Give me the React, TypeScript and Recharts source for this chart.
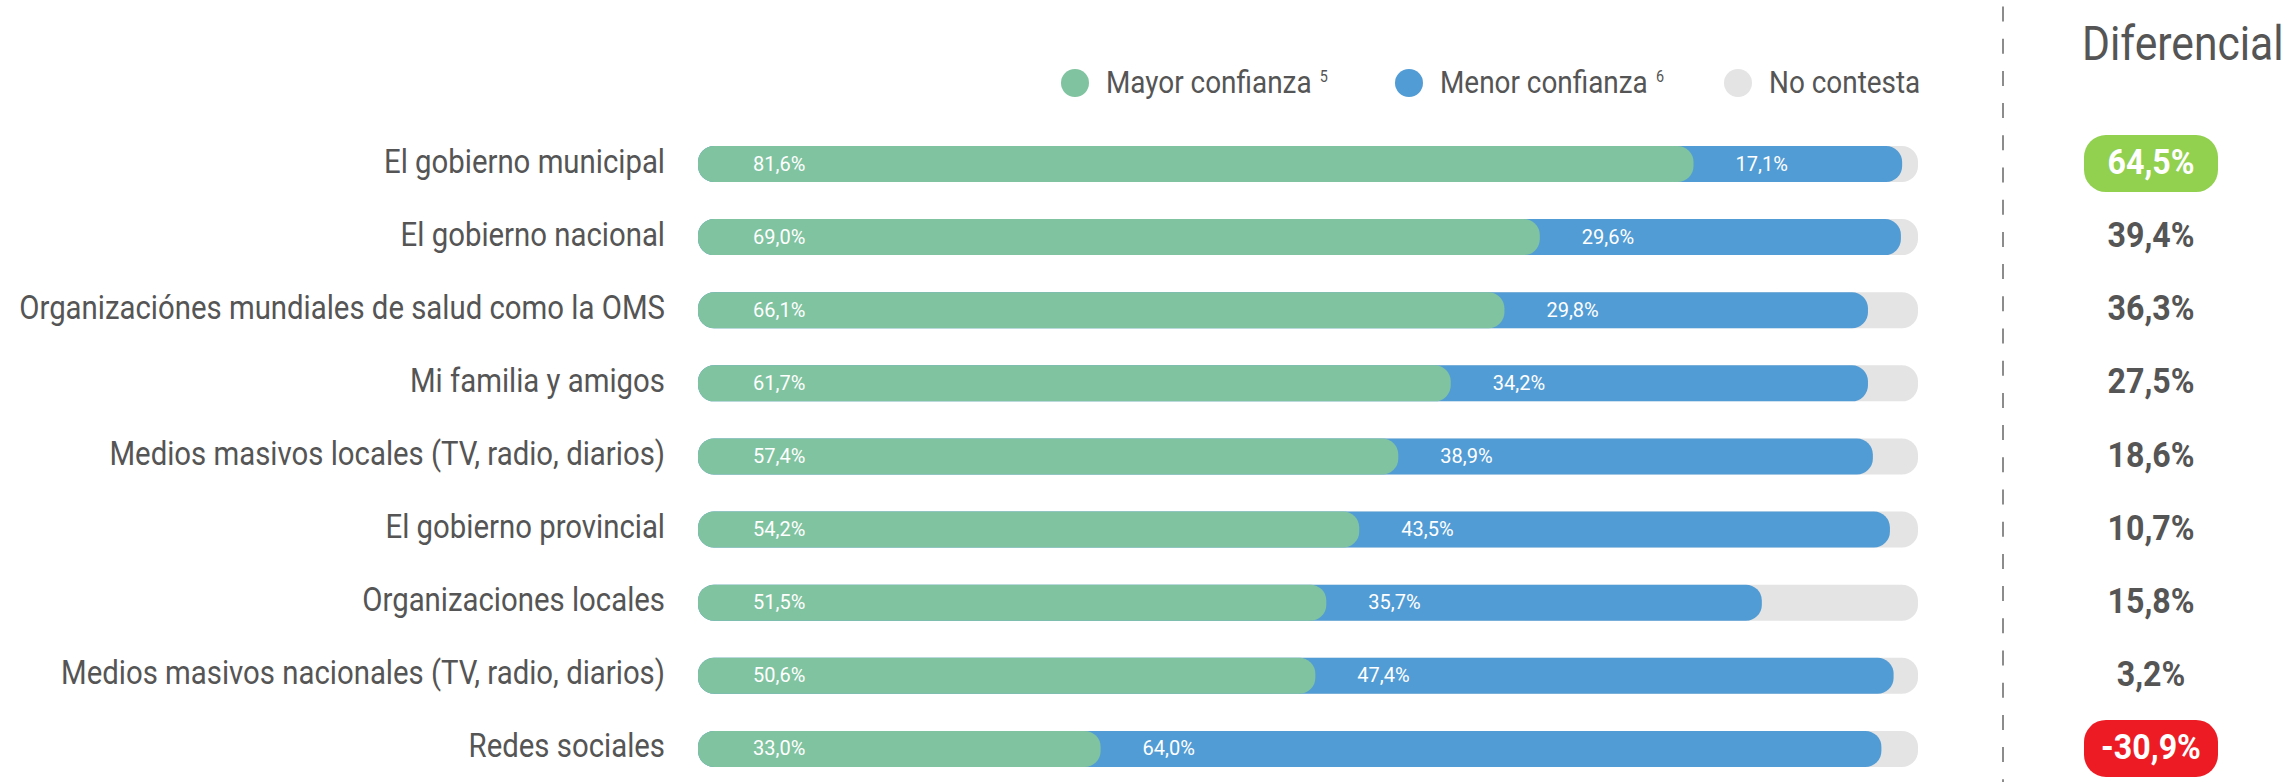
import React from 'react';
import { BarChart, Bar, XAxis, YAxis, Legend, LabelList } from 'recharts';

const categories = [
  'El gobierno municipal',
  'El gobierno nacional',
  'Organizaciónes mundiales de salud como la OMS',
  'Mi familia y amigos',
  'Medios masivos locales (TV, radio, diarios)',
  'El gobierno provincial',
  'Organizaciones locales',
  'Medios masivos nacionales (TV, radio, diarios)',
  'Redes sociales',
];
const mayorConfianza = [81.6, 69.0, 66.1, 61.7, 57.4, 54.2, 51.5, 50.6, 33.0];
const menorConfianza = [17.1, 29.6, 29.8, 34.2, 38.9, 43.5, 35.7, 47.4, 64.0];
const diferencial = [64.5, 39.4, 36.3, 27.5, 18.6, 10.7, 15.8, 3.2, -30.9];

const legendItems = [
  { key: 'mayor', label: 'Mayor confianza', sup: '5' },
  { key: 'acumulado', label: 'Menor confianza', sup: '6' },
  { key: 'total', label: 'No contesta', sup: '' },
];

const GREEN = '#80c3a0';
const BLUE = '#529cd5';
const GREY = '#e4e4e4';
const TEXT = '#555555';
const BAR_SIZE = 36;

const data = categories.map((name, i) => ({
  name,
  mayor: mayorConfianza[i],
  acumulado: mayorConfianza[i] + menorConfianza[i],
  total: 100,
}));

const fmt = (v: number) => v.toFixed(1).replace('.', ',') + '%';

if (typeof document !== 'undefined') {
  document.body.style.margin = '0';
  document.body.style.overflow = 'hidden';
}

const CategoryTick = (props: any) => {
  const { x, y, payload } = props;
  const i = categories.indexOf(payload.value);
  const d = diferencial[i];
  const badge = d >= 50 ? '#92d050' : d < 0 ? '#ed1c24' : null;
  return (
    <g>
      <g transform={`translate(${x - 33} ${y + 9}) scale(0.89 1)`}>
        <text x={0} y={0} textAnchor="end" fontSize={33} fill={TEXT} fontFamily="Roboto">
          {payload.value}
        </text>
      </g>
      {badge && <rect x={2084} y={y - 28.5} width={134} height={57} rx={22} fill={badge} />}
      <g transform={`translate(2151 ${y + 10.5}) scale(0.92 1)`}>
        <text x={0} y={0} textAnchor="middle" fontSize={35} fontWeight={700}
          fill={badge ? '#ffffff' : TEXT} fontFamily="Roboto">
          {fmt(d)}
        </text>
      </g>
    </g>
  );
};

const MayorLabel = (props: any) => {
  const { x, y, height, value } = props;
  return (
    <text x={x + 55} y={y + height / 2 + 6.5} fontSize={20} fill="#ffffff" fontFamily="Roboto">
      {fmt(value)}
    </text>
  );
};

const MenorLabel = (props: any) => {
  const { x, y, width, height, index } = props;
  const greenEnd = x + (width * mayorConfianza[index]) / (mayorConfianza[index] + menorConfianza[index]);
  return (
    <text x={greenEnd + 42} y={y + height / 2 + 6.5} fontSize={20} fill="#ffffff" fontFamily="Roboto">
      {fmt(menorConfianza[index])}
    </text>
  );
};

const legendX = [1075, 1409, 1738];

const LegendContent = (props: any) => {
  const payload = props.payload || [];
  return (
    <svg width={2287} height={120}>
      {legendItems.map((item, k) => {
        const entry = payload.find((p: any) => p.dataKey === item.key);
        const color = entry ? entry.color : GREY;
        return (
          <g key={item.key}>
            <circle cx={legendX[k]} cy={83} r={14} fill={color} />
            <g transform={`translate(${legendX[k] + 31} 92.7) scale(0.9 1)`}>
              <text x={0} y={0} fontSize={31} fill={TEXT} fontFamily="Roboto">
                {item.label}
                {item.sup && (
                  <tspan dx={9} dy={-11} fontSize={16}>
                    {item.sup}
                  </tspan>
                )}
              </text>
            </g>
          </g>
        );
      })}
    </svg>
  );
};

export default function App() {
  return (
    <div style={{ position: 'relative', width: 2287, height: 782, overflow: 'hidden', background: '#fff' }}>
      <BarChart
        width={2287}
        height={785}
        data={data}
        layout="vertical"
        margin={{ top: 127, right: 369, left: 0, bottom: 0 }}
        barGap={-BAR_SIZE}
        barSize={BAR_SIZE}
      >
        <XAxis type="number" domain={[0, 100]} hide />
        <YAxis
          type="category"
          dataKey="name"
          width={698}
          axisLine={false}
          tickLine={false}
          tickSize={0}
          tickMargin={0}
          interval={0}
          tick={<CategoryTick />}
        />
        <Legend
          verticalAlign="middle"
          align="center"
          layout="horizontal"
          content={<LegendContent />}
          wrapperStyle={{ position: 'absolute', top: 0, left: 0, width: 2287, height: 120, margin: 0, padding: 0 }}
        />
        <Bar dataKey="total" name="No contesta" fill={GREY} radius={16} isAnimationActive={false} />
        <Bar dataKey="acumulado" name="Menor confianza" fill={BLUE} radius={16} isAnimationActive={false}>
          <LabelList dataKey="acumulado" content={<MenorLabel />} />
        </Bar>
        <Bar dataKey="mayor" name="Mayor confianza" fill={GREEN} radius={16} isAnimationActive={false}>
          <LabelList dataKey="mayor" content={<MayorLabel />} />
        </Bar>
      </BarChart>
      <svg width={2287} height={782} style={{ position: 'absolute', top: 0, left: 0, pointerEvents: 'none' }}>
        <line x1={2003} y1={6.5} x2={2003} y2={782} stroke="#8c8c8c" strokeWidth={2} strokeDasharray="15 17.2" />
        <g transform="translate(2082 60) scale(0.87 1)">
          <text x={0} y={0} fontSize={49} fill={TEXT} fontFamily="Roboto">
            Diferencial
          </text>
        </g>
      </svg>
    </div>
  );
}
